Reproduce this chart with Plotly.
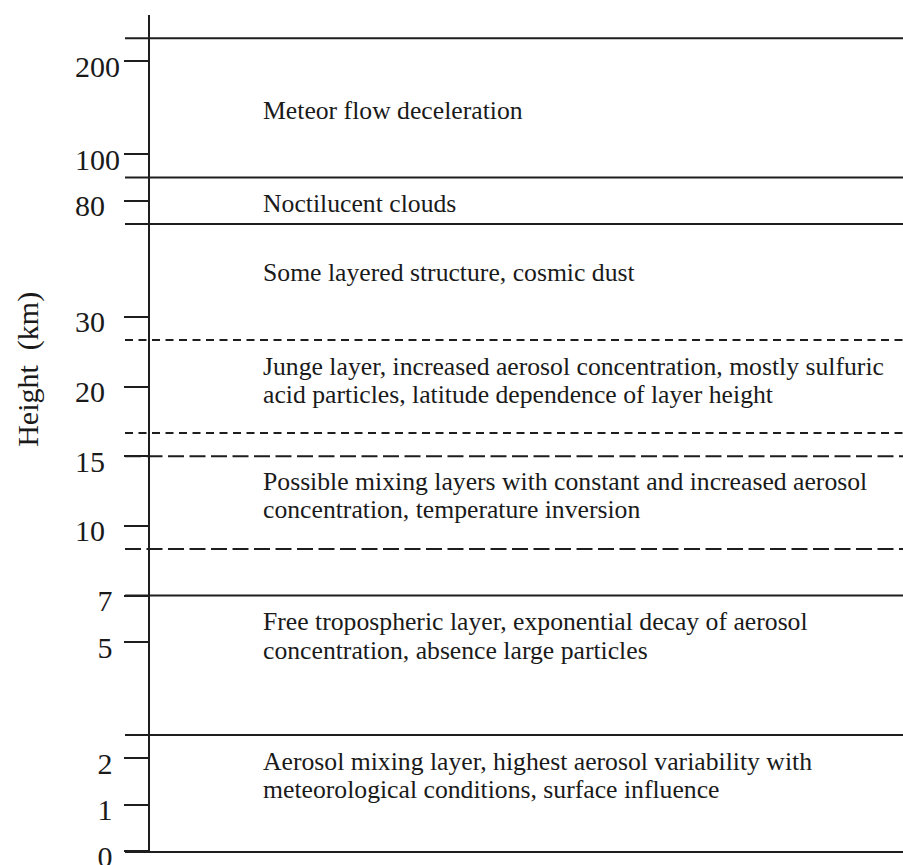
import plotly.graph_objects as go

# ---- data (schematic levels: the axis is a non-uniform height scale) ----
tick_labels = ["0", "1", "2", "5", "7", "10", "15", "20", "30", "80", "100", "200"]
tick_levels = [0, 1, 2, 4.5, 5.5, 7, 8.5, 10, 11.5, 14, 15, 17]

boundary_levels = [17.5, 14.5, 13.5, 11, 9, 8.5, 6.5, 5.5, 2.5]
boundary_styles = ["solid", "solid", "solid", "short", "short", "long", "long", "solid", "solid"]

layer_label_levels = [15.95, 13.95, 12.45, 10.13, 7.65, 4.63, 1.63]
layer_labels = [
    ["Meteor flow deceleration"],
    ["Noctilucent clouds"],
    ["Some layered structure, cosmic dust"],
    ["Junge layer, increased aerosol concentration, mostly sulfuric",
     "acid particles, latitude dependence of layer height"],
    ["Possible mixing layers with constant and increased aerosol",
     "concentration, temperature inversion"],
    ["Free tropospheric layer, exponential decay of aerosol",
     "concentration, absence large particles"],
    ["Aerosol mixing layer, highest aerosol variability with",
     "meteorological conditions, surface influence"],
]

y_title = "Height\u00a0\u00a0(km)"

# ---- styling ----
INK = "#1e1e1e"
FONT = "Liberation Serif, Times New Roman, serif"
dash_map = {"solid": "solid", "short": "8px,5.5px", "long": "16px,5.5px"}

W, H = 903, 865
ML, MR, MT, MB = 125, 0, 15, 14
plot_w = W - ML - MR

fig = go.Figure()

for lvl, sty in zip(boundary_levels, boundary_styles):
    fig.add_trace(go.Scatter(
        x=[0, 1], y=[lvl, lvl], mode="lines",
        line=dict(color=INK, width=2, dash=dash_map[sty]),
        hoverinfo="skip", showlegend=False,
    ))

line_gap = 28.5
for lvl, lines in zip(layer_label_levels, layer_labels):
    n = len(lines)
    for i, txt in enumerate(lines):
        shift = ((n - 1) / 2 - i) * line_gap
        fig.add_annotation(
            x=(261 - ML) / plot_w, y=lvl, xref="x", yref="y",
            text=txt, showarrow=False, xanchor="left", yanchor="middle",
            yshift=shift,
            font=dict(family=FONT, size=25.7, color="#1a1a1a"),
        )

fig.add_annotation(
    x=(28 - ML) / plot_w, y=10.36, xref="paper", yref="y",
    text=y_title, textangle=-90, showarrow=False,
    xanchor="center", yanchor="middle",
    font=dict(family=FONT, size=30, color="#1a1a1a"),
)

# pad labels so their right edges sit as in the original
pad = {1: "\u00a0", 2: "\u00a0\u00a0", 3: ""}
ticktext = [t + pad[len(t)] for t in tick_labels]

fig.update_layout(
    width=W, height=H,
    margin=dict(l=ML, r=MR, t=MT, b=MB, autoexpand=False),
    paper_bgcolor="white", plot_bgcolor="white",
    xaxis=dict(range=[0, 1], domain=[0, 1], showgrid=False, zeroline=False,
               showticklabels=False, ticks="", showline=True,
               linecolor=INK, linewidth=2, fixedrange=True, automargin=False),
    yaxis=dict(range=[0, 18], anchor="free", position=24 / plot_w,
               showgrid=False, zeroline=False, showline=True,
               linecolor=INK, linewidth=2, automargin=False,
               tickmode="array", tickvals=tick_levels, ticktext=ticktext,
               ticks="outside", ticklen=24, tickwidth=2, tickcolor=INK,
               ticklabelshift=5, ticklabelstandoff=-2,
               ticklabeloverflow="allow",
               tickfont=dict(family=FONT, size=30, color="#1a1a1a"),
               fixedrange=True),
    showlegend=False,
)

fig.write_html(
    "out.html",
    config={"displayModeBar": False, "staticPlot": True},
    post_script="document.body.style.margin='0';document.body.style.overflow='hidden';",
)
